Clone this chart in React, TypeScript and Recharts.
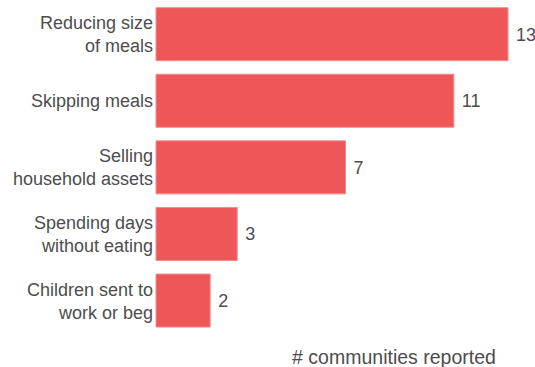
import { Bar, BarChart, LabelList, XAxis, YAxis } from "recharts";

const categories = [
  "Reducing size\nof meals",
  "Skipping meals",
  "Selling\nhousehold assets",
  "Spending days\nwithout eating",
  "Children sent to\nwork or beg",
];
const communities = [13, 11, 7, 3, 2];

const data = categories.map((name, i) => ({ name, value: communities[i] }));

const TEXT = "#4d4d4d";
const FONT = "'Liberation Sans', Arial, sans-serif";

function CategoryTick(props: any) {
  const { x, y, payload } = props;
  const lines = String(payload.value).split("\n");
  const lh = 23;
  const start = -((lines.length - 1) * lh) / 2;
  return (
    <text
      x={x}
      y={y}
      textAnchor="end"
      fill={TEXT}
      fontSize={18}
      fontFamily={FONT}
    >
      {lines.map((l, i) => (
        <tspan key={i} x={x} y={y + start + i * lh} dy="0.35em">
          {l}
        </tspan>
      ))}
    </text>
  );
}

export default function App() {
  return (
    <div style={{ position: "absolute", left: 0, top: 0, width: 535, height: 367 }}>
      <BarChart
        width={535}
        height={367}
        data={data}
        layout="vertical"
        margin={{ top: 1, right: 27, left: 0, bottom: 0 }}
        barCategoryGap="10%"
      >
        <XAxis
          type="number"
          domain={[0, 13]}
          tick={false}
          axisLine={false}
          tickLine={false}
          height={33}
          label={{
            value: "# communities reported",
            position: "insideBottom",
            offset: 3,
            dx: 62,
            fill: TEXT,
            fontSize: 19.5,
            fontFamily: FONT,
          }}
        />
        <YAxis
          type="category"
          dataKey="name"
          width={156}
          axisLine={false}
          tickLine={false}
          tickSize={0}
          tickMargin={3}
          tick={<CategoryTick />}
        />
        <Bar
          dataKey="value"
          fill="#ef5658"
          stroke="#f28c8c"
          strokeWidth={1}
          isAnimationActive={false}
        >
          <LabelList
            dataKey="value"
            position="right"
            offset={8}
            fill={TEXT}
            fontSize={18}
            fontFamily={FONT}
          />
        </Bar>
      </BarChart>
    </div>
  );
}
